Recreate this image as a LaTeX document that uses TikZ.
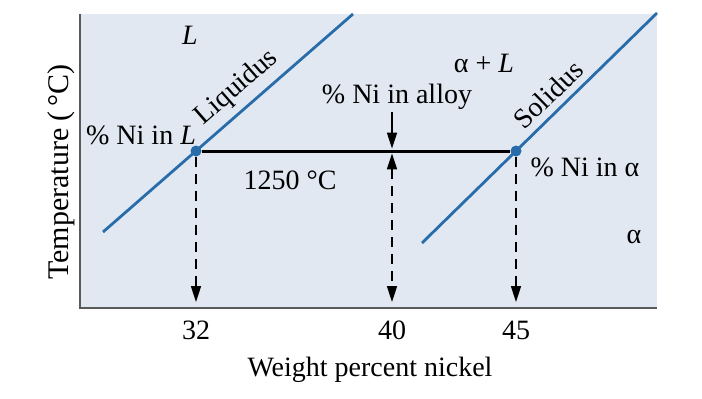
\documentclass[tikz,border=0pt]{standalone}
\usepackage{fontspec}
\setmainfont{Liberation Serif}
\usetikzlibrary{arrows.meta}
\definecolor{paneblue}{RGB}{225,232,242}
\definecolor{lineblue}{RGB}{40,108,170}
\definecolor{axisgray}{RGB}{90,90,90}

\begin{document}
\begin{tikzpicture}[x=0.5pt, y=-0.5pt, font=\fontsize{14}{16}\selectfont,
    >={Triangle[length=8pt,width=5pt]},
    phase/.style={line width=1.4pt, lineblue},
    drop/.style={dash pattern=on 5pt off 3.5pt, line width=0.8pt},
    dot/.style={circle, fill=lineblue, inner sep=0pt, minimum size=5.5pt}]
    \useasboundingbox (0,0) rectangle (702,398);

    \fill[paneblue] (80,14) rectangle (657,308);
    \draw[line width=1pt, axisgray] (80,14) -- (80,308) -- (657,308);

    \coordinate (liq0) at (103,232);
    \coordinate (liq1) at (353,14);
    \coordinate (sol0) at (422,243);
    \coordinate (sol1) at (657,13);

    \draw[phase] (liq0) -- (liq1) node[pos=0.59, sloped, above, black] (liqlab) {Liquidus};
    \draw[phase] (sol0) -- (sol1) node[pos=0.59, sloped, above, black] (sollab) {Solidus};

    \node[dot] (dotL) at (196,151) {};
    \node[dot] (dotA) at (516,151) {};
    \coordinate (tie40) at (392,151);
    \draw[line width=1.5pt] (dotL) -- (dotA);

    \node (t32) at (196,330) {32};
    \node (t40) at (392,330) {40};
    \node (t45) at (516,330) {45};
    \coordinate (ax32) at (196,308);
    \coordinate (ax40) at (392,308);
    \coordinate (ax45) at (516,308);

    \draw[drop, ->, shorten >=3pt] (dotL) -- (ax32);
    \draw[drop, <->, shorten <=1.2pt, shorten >=3pt] (tie40) -- (ax40);
    \draw[drop, ->, shorten >=3pt] (dotA) -- (ax45);

    \node[inner sep=1pt] (alloy) at (397,97) {\% Ni in alloy};
    \draw[->, line width=0.7pt, shorten >=1.2pt] (alloy.south -| tie40) -- (tie40);

    \node (regL) at (190,35) {\textit{L}};
    \node (regAL) at (484,63) {α + \textit{L}};
    \node (regA) at (634,237) {α};
    \node (niL) at (141,135) {\% Ni in \textit{L}};
    \node (niA) at (585,167) {\% Ni in α};
    \node (temp) at (290,180) {1250 °C};

    \node (xlab) at (370,370) {Weight percent nickel};
    \node[rotate=90, font=\fontsize{15}{17}\selectfont] (ylab) at (61,172) {Temperature (\,°C)};
\end{tikzpicture}
\end{document}
